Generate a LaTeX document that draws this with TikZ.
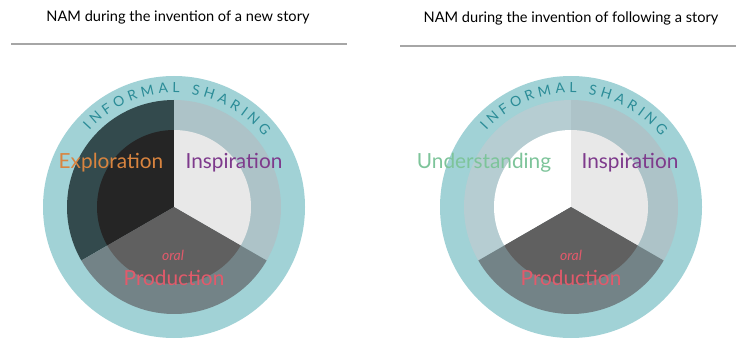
\documentclass[tikz,border=0pt]{standalone}
\usepackage{fontspec}
\setmainfont{Lato}
\usetikzlibrary{decorations.text}
\definecolor{ringteal}{HTML}{A1D2D6}
\definecolor{shareteal}{HTML}{2B8C97}
\definecolor{leftout}{HTML}{334A4D}
\definecolor{leftin}{HTML}{252525}
\definecolor{rightout}{HTML}{ADC3C8}
\definecolor{rightin}{HTML}{E8E8E8}
\definecolor{botout}{HTML}{738387}
\definecolor{botin}{HTML}{606060}
\definecolor{undout}{HTML}{B6CDD2}
\definecolor{explcol}{HTML}{D9843F}
\definecolor{inspcol}{HTML}{7E3A8C}
\definecolor{undcol}{HTML}{7DC49A}
\definecolor{prodcol}{HTML}{E25A6B}
\definecolor{rulegray}{HTML}{A6A6A6}
\begin{document}
\begin{tikzpicture}[x=1pt, y=1pt, line cap=round,
    title/.style={font=\fontsize{14.6}{17}\selectfont},
    label/.style={font=\fontsize{20.8}{24}\selectfont},
    small/.style={font=\fontsize{14}{16}\selectfont\itshape, text=prodcol},
    rule/.style={draw=rulegray, line width=2pt, line cap=butt}]
\useasboundingbox (0,0) rectangle (736,338);
\coordinate (c1) at (174,131);
\coordinate (c2) at (571,131);

% left diagram
\fill[ringteal] (c1) circle[radius=131];
\fill[leftout] (c1) -- ++(90:107) arc[start angle=90, end angle=210, radius=107] -- cycle;
\fill[rightout] (c1) -- ++(-30:107) arc[start angle=-30, end angle=90, radius=107] -- cycle;
\fill[botout] (c1) -- ++(210:107) arc[start angle=210, end angle=330, radius=107] -- cycle;
\fill[leftin] (c1) -- ++(90:77) arc[start angle=90, end angle=210, radius=77] -- cycle;
\fill[rightin] (c1) -- ++(-30:77) arc[start angle=-30, end angle=90, radius=77] -- cycle;
\fill[botin] (c1) -- ++(210:77) arc[start angle=210, end angle=330, radius=77] -- cycle;
\path[decorate, decoration={text along path, text align={fit to path},
    text={|\fontsize{14}{16}\selectfont\color{shareteal}|INFORMAL SHARING}}]
    ([shift={(138:114)}]c1) arc[start angle=138, end angle=38, radius=114];

\node[title] (title1) at (178,321) {NAM during the invention of a new story};
\draw[rule] (11,294) -- (347,294);
\node[label, text=explcol] (expl) at (111,175) {Exploration};
\node[label, text=inspcol] (insp1) at (234,175) {Inspiration};
\node[small] (oral1) at (173,83) {oral};
\node[label, text=prodcol] (prod1) at (174,60) {Production};

% right diagram
\fill[ringteal] (c2) circle[radius=131];
\fill[undout] (c2) -- ++(90:107) arc[start angle=90, end angle=210, radius=107] -- cycle;
\fill[rightout] (c2) -- ++(-30:107) arc[start angle=-30, end angle=90, radius=107] -- cycle;
\fill[botout] (c2) -- ++(210:107) arc[start angle=210, end angle=330, radius=107] -- cycle;
\fill[white] (c2) -- ++(90:77) arc[start angle=90, end angle=210, radius=77] -- cycle;
\fill[rightin] (c2) -- ++(-30:77) arc[start angle=-30, end angle=90, radius=77] -- cycle;
\fill[botin] (c2) -- ++(210:77) arc[start angle=210, end angle=330, radius=77] -- cycle;
\path[decorate, decoration={text along path, text align={fit to path},
    text={|\fontsize{14}{16}\selectfont\color{shareteal}|INFORMAL SHARING}}]
    ([shift={(138:114)}]c2) arc[start angle=138, end angle=38, radius=114];

\node[title] (title2) at (571,320) {NAM during the invention of following a story};
\draw[rule] (400,292) -- (736,292);
\node[label, text=undcol] (und) at (484,175) {Understanding};
\node[label, text=inspcol] (insp2) at (630,175) {Inspiration};
\node[small] (oral2) at (571,83) {oral};
\node[label, text=prodcol] (prod2) at (571,60) {Production};
\end{tikzpicture}
\end{document}
